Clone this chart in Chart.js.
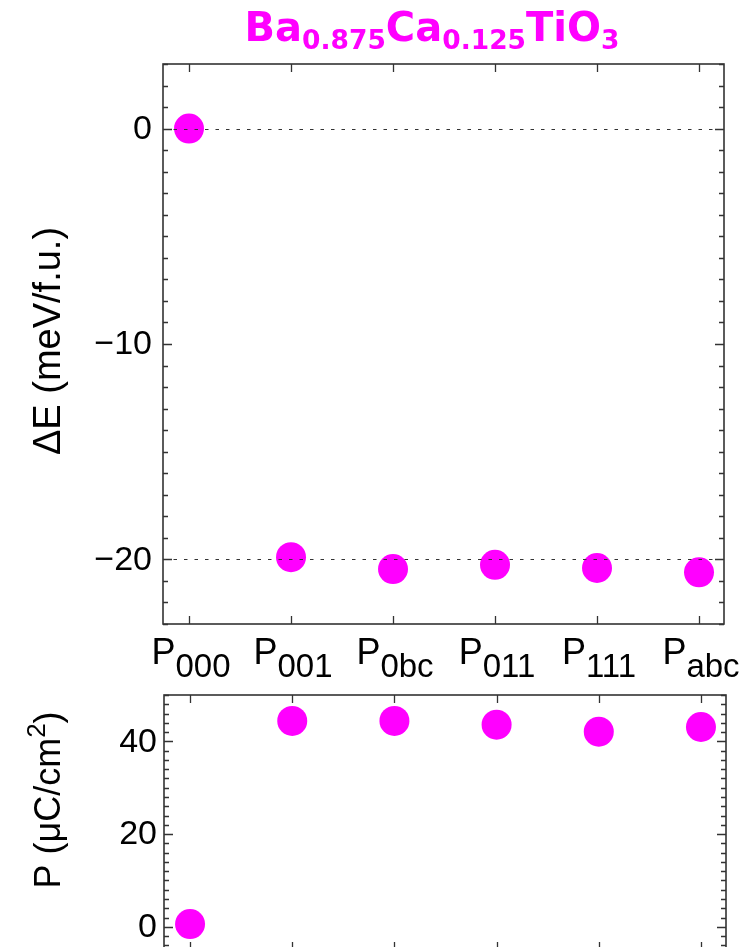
<!DOCTYPE html>
<html>
<head>
<meta charset="utf-8">
<script src="https://cdn.jsdelivr.net/npm/chart.js@4.4.1/dist/chart.umd.min.js"></script>
<style>
  html, body { margin: 0; padding: 0; background: #fff; overflow: hidden; width: 745px; height: 947px; }
  canvas { position: absolute; left: 0; display: block; }
  #energy { top: 0; }
  #polar { top: 680px; }
</style>
</head>
<body>
<canvas id="energy" width="745" height="690"></canvas>
<canvas id="polar" width="745" height="280"></canvas>
<script>
// Polar phases of Ba0.875Ca0.125TiO3 (subscript of P for each phase)
const phaseSubscripts = ['000', '001', '0bc', '011', '111', 'abc'];
// Energy relative to the paraelectric P000 phase (meV per formula unit)
const energyMeV = [0, -19.9, -20.45, -20.25, -20.4, -20.6];
// Polarization magnitude (µC/cm²)
const polarization = [0.6, 44.4, 44.4, 43.6, 42.1, 43.1];
// Axis tick values and dotted guide lines
const energyTicks = [-20, -10, 0];
const energyGuides = [0, -20];
const polarTicks = [0, 20, 40];

const MAGENTA = '#ff00ff';
const FRAME = '#333333';
const SANS = '"Liberation Sans", Arial, sans-serif';

function minusLabel(v) { return v < 0 ? '\u2212' + Math.abs(v) : String(v); }

// Draw a run of text pieces (each with its own font and baseline shift), centred on x
function drawRuns(ctx, runs, x, y, align) {
  let total = 0;
  runs.forEach(r => { ctx.font = r.font; r.w = ctx.measureText(r.t).width; total += r.w; });
  let cx = align === 'center' ? x - total / 2 : x;
  ctx.textAlign = 'left';
  ctx.textBaseline = 'alphabetic';
  runs.forEach(r => { ctx.font = r.font; ctx.fillText(r.t, cx, y + (r.dy || 0)); cx += r.w; });
}

// Frame, inward ticks on all four sides, tick labels, guide lines and decorated labels
const framePlugin = {
  id: 'framePlugin',
  afterDatasetsDraw(chart, args, o) {
    const { ctx, chartArea: a, scales: { x, y } } = chart;
    ctx.save();
    // dotted guides
    ctx.strokeStyle = '#333';
    ctx.lineWidth = 1;
    ctx.setLineDash([3.5, 7]);
    (o.guides || []).forEach(v => {
      const py = Math.round(y.getPixelForValue(v)) + 0.5;
      ctx.beginPath(); ctx.moveTo(a.left, py); ctx.lineTo(a.right, py); ctx.stroke();
    });
    ctx.setLineDash([]);
    // frame
    ctx.strokeStyle = FRAME;
    ctx.lineWidth = 1.6;
    ctx.strokeRect(a.left, a.top, a.right - a.left, a.bottom - a.top);
    // x ticks (one per phase), top and bottom
    ctx.lineWidth = 1.3;
    phaseSubscripts.forEach((s, i) => {
      const px = Math.round(x.getPixelForValue(i)) + 0.5;
      ctx.beginPath();
      ctx.moveTo(px, a.top); ctx.lineTo(px, a.top + 8);
      ctx.moveTo(px, a.bottom); ctx.lineTo(px, a.bottom - 8);
      ctx.stroke();
    });
    // y ticks, major and minor, left and right
    const step = o.minorStep;
    for (let v = Math.ceil(y.min / step) * step; v <= y.max + 1e-9; v += step) {
      const py = Math.round(y.getPixelForValue(v)) + 0.5;
      const major = Math.abs(v % o.majorStep) < 1e-9;
      const len = major ? 9 : 5;
      ctx.beginPath();
      ctx.moveTo(a.left, py); ctx.lineTo(a.left + len, py);
      ctx.moveTo(a.right, py); ctx.lineTo(a.right - len, py);
      ctx.stroke();
    }
    // y tick labels
    ctx.fillStyle = '#000';
    ctx.font = '34px ' + SANS;
    ctx.textAlign = 'right';
    ctx.textBaseline = 'middle';
    o.labels.forEach(v => {
      ctx.fillText(minusLabel(v), a.left - o.labelGap, y.getPixelForValue(v) + 1);
    });
    // category labels P with subscripts
    if (o.phaseLabels) {
      phaseSubscripts.forEach((s, i) => {
        const px = x.getPixelForValue(i);
        drawRuns(ctx, [
          { t: 'P', font: '36px ' + SANS },
          { t: s, font: '33px ' + SANS, dy: 13 }
        ], px + 2, a.bottom + 40, 'center');
      });
    }
    // chemical formula heading
    if (o.heading) {
      ctx.fillStyle = MAGENTA;
      const big = 'bold 40px "DejaVu Sans", sans-serif';
      const small = 'bold 26.5px "DejaVu Sans", sans-serif';
      drawRuns(ctx, [
        { t: 'Ba', font: big }, { t: '0.875', font: small, dy: 8 },
        { t: 'Ca', font: big }, { t: '0.125', font: small, dy: 8 },
        { t: 'TiO', font: big }, { t: '3', font: small, dy: 8 }
      ], 432, 41, 'center');
    }
    // rotated y-axis title
    ctx.fillStyle = '#000';
    ctx.translate(o.titleX, o.titleY);
    ctx.rotate(-Math.PI / 2);
    drawRuns(ctx, o.titleRuns, 0, 0, 'center');
    ctx.restore();
  }
};

function pointsOf(values) { return values.map((v, i) => ({ x: i, y: v })); }

function makeChart(id, values, cfg) {
  return new Chart(document.getElementById(id), {
    type: 'scatter',
    data: {
      datasets: [{
        data: pointsOf(values),
        backgroundColor: MAGENTA,
        borderWidth: 0,
        pointRadius: 15,
        pointHoverRadius: 15
      }]
    },
    options: {
      responsive: false,
      animation: false,
      events: [],
      layout: { autoPadding: false, padding: cfg.padding },
      plugins: { legend: { display: false }, tooltip: { enabled: false }, framePlugin: cfg.frame },
      scales: {
        x: { type: 'linear', display: false, min: -0.255, max: 5.245 },
        y: { type: 'linear', display: false, min: cfg.min, max: cfg.max }
      }
    },
    plugins: [framePlugin]
  });
}

makeChart('energy', energyMeV, {
  min: -23, max: 3,
  padding: { left: 163, top: 64, right: 21, bottom: 66 },
  frame: {
    labels: energyTicks, labelGap: 11,
    guides: energyGuides, minorStep: 1, majorStep: 10, phaseLabels: true, heading: true,
    titleX: 60, titleY: 341,
    titleRuns: [{ t: '\u0394E (meV/f.u.)', font: '38px ' + SANS }]
  }
});

makeChart('polar', polarization, {
  min: -5, max: 50,
  padding: { left: 164, top: 15, right: 19, bottom: 10 },
  frame: {
    labels: polarTicks, labelGap: 7,
    guides: [], minorStep: 2, majorStep: 20, phaseLabels: false, heading: false,
    titleX: 60, titleY: 120,
    titleRuns: [
      { t: 'P (\u03BCC/cm', font: '36px ' + SANS },
      { t: '2', font: '26px ' + SANS, dy: -15 },
      { t: ')', font: '36px ' + SANS }
    ]
  }
});
</script>
</body>
</html>
